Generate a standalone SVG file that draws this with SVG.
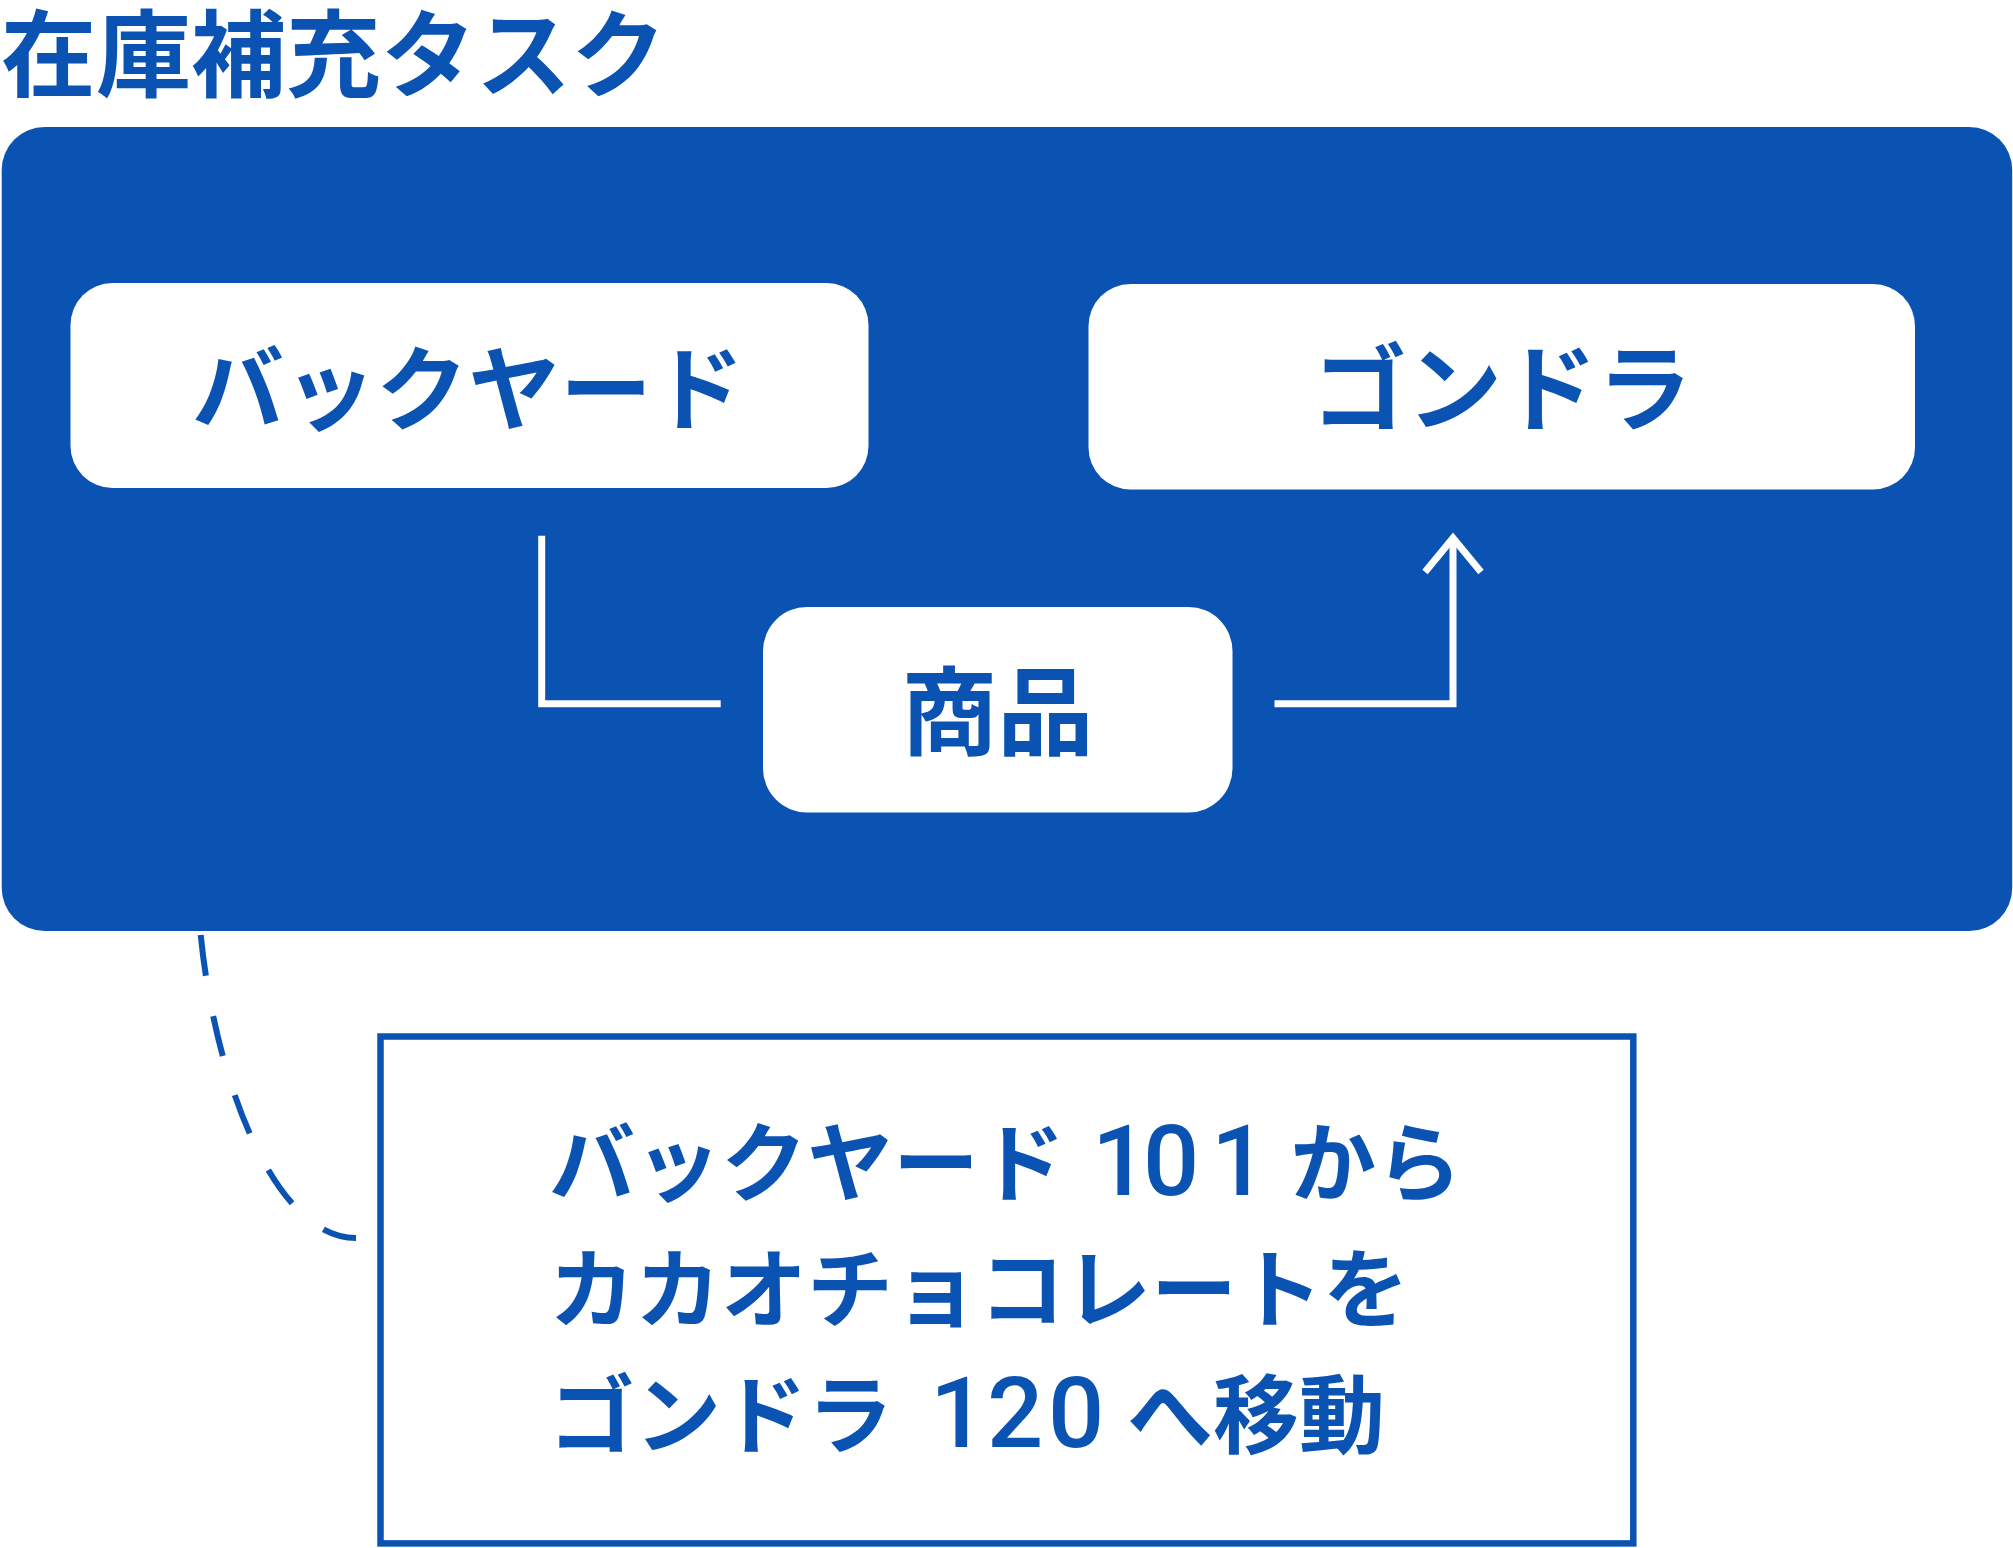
<svg xmlns="http://www.w3.org/2000/svg" width="2013" height="1548" viewBox="0 0 2013 1548">
  <defs>
    <style>
      .t { font-family: "Noto Sans CJK JP", "Noto Sans CJK SC", sans-serif; fill: #0b53b3; font-weight: 700; }
      .title { font-size: 95px; }
      .lbl { font-size: 92px; text-anchor: middle; }
      .note { font-size: 86px; }
      .num { font-family: Roboto, "Noto Sans CJK JP", sans-serif; font-size: 99px; font-weight: 500; }
      .node { fill: #ffffff; }
      .conn { fill: none; stroke: #ffffff; stroke-width: 7; }
    </style>
    <marker id="openArrow" markerUnits="userSpaceOnUse" markerWidth="80" markerHeight="80" viewBox="-40 -40 80 80" refX="0" refY="0" orient="auto" overflow="visible">
      <path d="M -34 -28 L 0 0 L -34 28" fill="none" stroke="#ffffff" stroke-width="7"/>
    </marker>
  </defs>

  <rect width="2013" height="1548" fill="#ffffff"/>

  <g id="title">
    <text class="t title" x="1" y="90">在庫補充タスク</text>
  </g>

  <g id="container">
    <rect x="1.7" y="127" width="2010.5" height="804" rx="43" ry="43" fill="#0b53b3"/>
  </g>

  <g id="node-backyard">
    <rect class="node" x="70.5" y="283" width="798" height="205" rx="42" ry="42"/>
    <text class="t lbl" x="468" y="423">バックヤード</text>
  </g>

  <g id="node-gondola">
    <rect class="node" x="1088.5" y="284" width="826.5" height="205.5" rx="42" ry="42"/>
    <text class="t lbl" x="1502" y="424" style="font-size:95px">ゴンドラ</text>
  </g>

  <g id="node-product">
    <rect class="node" x="763" y="607" width="469.5" height="205.5" rx="44" ry="44"/>
    <text class="t lbl" x="997.5" y="747" style="font-size:96px">商品</text>
  </g>

  <g id="connectors">
    <path class="conn" d="M 541.7 535.7 V 703.7 H 720.7"/>
    <path class="conn" d="M 1274.5 703.7 H 1453 V 538" marker-end="url(#openArrow)"/>
    <path d="M 200.7 935 C 215.7 1085 276 1238 356 1238" fill="none" stroke="#0b53b3" stroke-width="6" stroke-dasharray="41 41"/>
  </g>

  <g id="note">
    <rect x="380.5" y="1036.5" width="1252.8" height="506.9" fill="#ffffff" stroke="#0b53b3" stroke-width="6.5"/>
    <text class="t note" x="549" y="1195">バックヤード <tspan class="num" x="1092 1143 1211">101</tspan> <tspan x="1290">から</tspan></text>
    <text class="t note" x="549" y="1321">カカオチョコレートを</text>
    <text class="t note" x="549" y="1447">ゴンドラ <tspan class="num" x="930 987 1048">120</tspan> <tspan x="1127">へ移動</tspan></text>
  </g>
</svg>
